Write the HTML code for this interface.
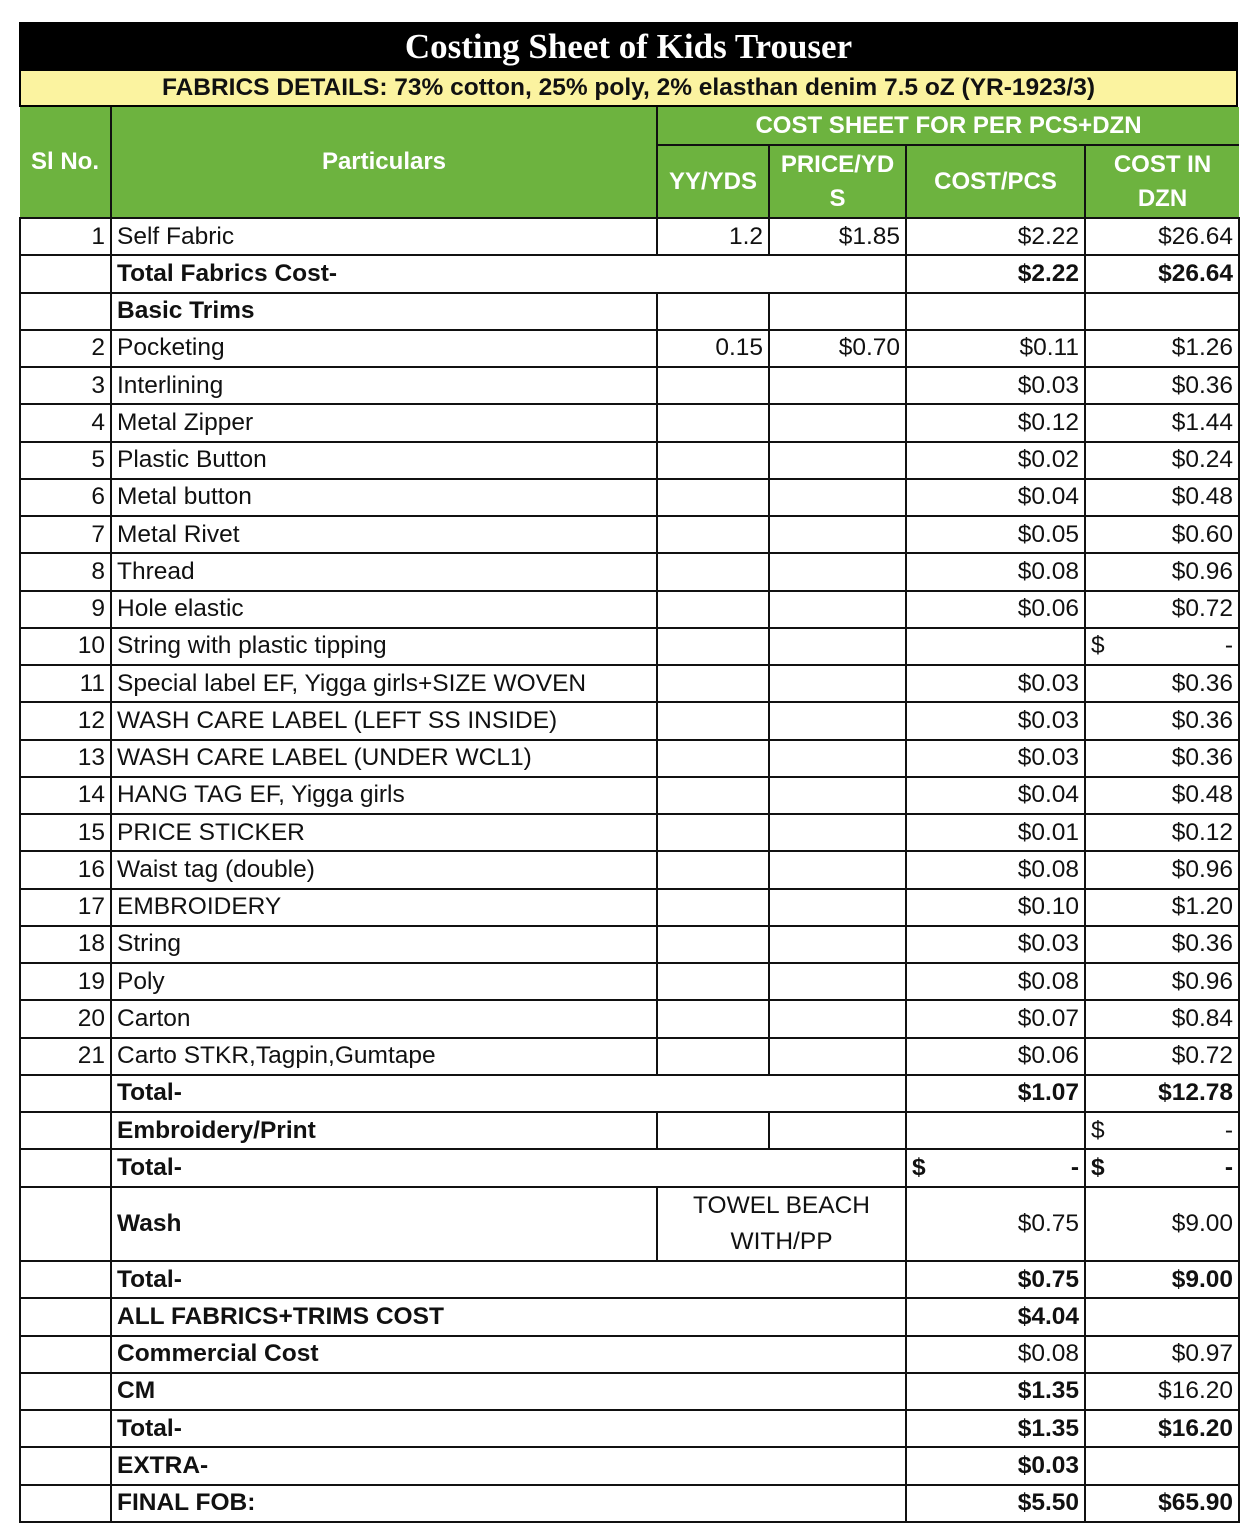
<!DOCTYPE html>
<html><head><meta charset="utf-8"><style>
body{margin:0;background:#fff;width:1258px;height:1536px;position:relative;font-family:"Liberation Sans",sans-serif;}
.wrap{position:absolute;left:19px;top:22px;width:1219px;}
.title{height:49px;background:#000;color:#fff;font-family:"Liberation Serif",serif;font-weight:bold;font-size:35px;text-align:center;line-height:49px;}
.yel{height:34px;background:#fbf3a0;border:2px solid #000;border-top:0;text-align:center;font-weight:bold;font-size:24.5px;line-height:34px;color:#111;}
table{border-collapse:collapse;table-layout:fixed;width:1219px;}
td{border:2.5px solid #111;padding:0 5px;font-size:24.5px;white-space:nowrap;overflow:hidden;color:#111;height:37.25px;box-sizing:border-box;line-height:30px}
.g td{background:#6db33f;color:#fff;font-weight:bold;text-align:center;border-color:#111;border-top:0;font-size:24px}
.r{text-align:right}
.b{font-weight:bold}
.acc{display:flex;justify-content:space-between}
</style></head><body>
<div class="wrap">
<div class="title">Costing Sheet of Kids Trouser</div>
<div class="yel">FABRICS DETAILS: 73% cotton, 25% poly, 2% elasthan denim 7.5 oZ (YR-1923/3)</div>
<table>
<colgroup><col style="width:91px"><col style="width:546px"><col style="width:112px"><col style="width:137px"><col style="width:179px"><col style="width:154px"></colgroup>
<tr class="g" style="height:38px"><td rowspan="2" style="border-left:0">Sl No.</td><td rowspan="2">Particulars</td><td colspan="4" style="border-bottom:2.5px solid #111;border-right:0">COST SHEET FOR PER PCS+DZN</td></tr>
<tr class="g" style="height:73px"><td>YY/YDS</td><td style="white-space:normal;line-height:34px">PRICE/YD<br>S</td><td>COST/PCS</td><td style="white-space:normal;line-height:34px;border-right:0">COST IN<br>DZN</td></tr>
<tr><td class="r">1</td><td>Self Fabric</td><td class="r">1.2</td><td class="r">$1.85</td><td class="r">$2.22</td><td class="r">$26.64</td></tr>
<tr><td></td><td colspan="3" class="b">Total Fabrics Cost-</td><td class="r b">$2.22</td><td class="r b">$26.64</td></tr>
<tr><td></td><td class="b">Basic Trims</td><td></td><td></td><td></td><td></td></tr>
<tr><td class="r">2</td><td>Pocketing</td><td class="r">0.15</td><td class="r">$0.70</td><td class="r">$0.11</td><td class="r">$1.26</td></tr>
<tr><td class="r">3</td><td>Interlining</td><td></td><td></td><td class="r">$0.03</td><td class="r">$0.36</td></tr>
<tr><td class="r">4</td><td>Metal Zipper</td><td></td><td></td><td class="r">$0.12</td><td class="r">$1.44</td></tr>
<tr><td class="r">5</td><td>Plastic Button</td><td></td><td></td><td class="r">$0.02</td><td class="r">$0.24</td></tr>
<tr><td class="r">6</td><td>Metal button</td><td></td><td></td><td class="r">$0.04</td><td class="r">$0.48</td></tr>
<tr><td class="r">7</td><td>Metal Rivet</td><td></td><td></td><td class="r">$0.05</td><td class="r">$0.60</td></tr>
<tr><td class="r">8</td><td>Thread</td><td></td><td></td><td class="r">$0.08</td><td class="r">$0.96</td></tr>
<tr><td class="r">9</td><td>Hole elastic</td><td></td><td></td><td class="r">$0.06</td><td class="r">$0.72</td></tr>
<tr><td class="r">10</td><td>String with plastic tipping</td><td></td><td></td><td></td><td><div class="acc"><span>$</span><span>-</span></div></td></tr>
<tr><td class="r">11</td><td>Special label EF, Yigga girls+SIZE WOVEN</td><td></td><td></td><td class="r">$0.03</td><td class="r">$0.36</td></tr>
<tr><td class="r">12</td><td>WASH CARE LABEL (LEFT SS INSIDE)</td><td></td><td></td><td class="r">$0.03</td><td class="r">$0.36</td></tr>
<tr><td class="r">13</td><td>WASH CARE LABEL (UNDER WCL1)</td><td></td><td></td><td class="r">$0.03</td><td class="r">$0.36</td></tr>
<tr><td class="r">14</td><td>HANG TAG EF, Yigga girls</td><td></td><td></td><td class="r">$0.04</td><td class="r">$0.48</td></tr>
<tr><td class="r">15</td><td>PRICE STICKER</td><td></td><td></td><td class="r">$0.01</td><td class="r">$0.12</td></tr>
<tr><td class="r">16</td><td>Waist tag (double)</td><td></td><td></td><td class="r">$0.08</td><td class="r">$0.96</td></tr>
<tr><td class="r">17</td><td>EMBROIDERY</td><td></td><td></td><td class="r">$0.10</td><td class="r">$1.20</td></tr>
<tr><td class="r">18</td><td>String</td><td></td><td></td><td class="r">$0.03</td><td class="r">$0.36</td></tr>
<tr><td class="r">19</td><td>Poly</td><td></td><td></td><td class="r">$0.08</td><td class="r">$0.96</td></tr>
<tr><td class="r">20</td><td>Carton</td><td></td><td></td><td class="r">$0.07</td><td class="r">$0.84</td></tr>
<tr><td class="r">21</td><td>Carto STKR,Tagpin,Gumtape</td><td></td><td></td><td class="r">$0.06</td><td class="r">$0.72</td></tr>
<tr><td></td><td colspan="3" class="b">Total-</td><td class="r b">$1.07</td><td class="r b">$12.78</td></tr>
<tr><td></td><td class="b">Embroidery/Print</td><td></td><td></td><td></td><td><div class="acc"><span>$</span><span>-</span></div></td></tr>
<tr><td></td><td colspan="3" class="b">Total-</td><td class="b"><div class="acc"><span>$</span><span>-</span></div></td><td class="b"><div class="acc"><span>$</span><span>-</span></div></td></tr>
<tr style="height:74.5px"><td style="height:74.5px"></td><td class="b">Wash</td><td colspan="2" style="text-align:center;white-space:normal;line-height:36px">TOWEL BEACH<br>WITH/PP</td><td class="r">$0.75</td><td class="r">$9.00</td></tr>
<tr><td></td><td colspan="3" class="b">Total-</td><td class="r b">$0.75</td><td class="r b">$9.00</td></tr>
<tr><td></td><td colspan="3" class="b">ALL FABRICS+TRIMS COST</td><td class="r b">$4.04</td><td></td></tr>
<tr><td></td><td colspan="3" class="b">Commercial Cost</td><td class="r">$0.08</td><td class="r">$0.97</td></tr>
<tr><td></td><td colspan="3" class="b">CM</td><td class="r b">$1.35</td><td class="r">$16.20</td></tr>
<tr><td></td><td colspan="3" class="b">Total-</td><td class="r b">$1.35</td><td class="r b">$16.20</td></tr>
<tr><td></td><td colspan="3" class="b">EXTRA-</td><td class="r b">$0.03</td><td></td></tr>
<tr><td></td><td colspan="3" class="b">FINAL FOB:</td><td class="r b">$5.50</td><td class="r b">$65.90</td></tr>
</table>
</div>
</body></html>
